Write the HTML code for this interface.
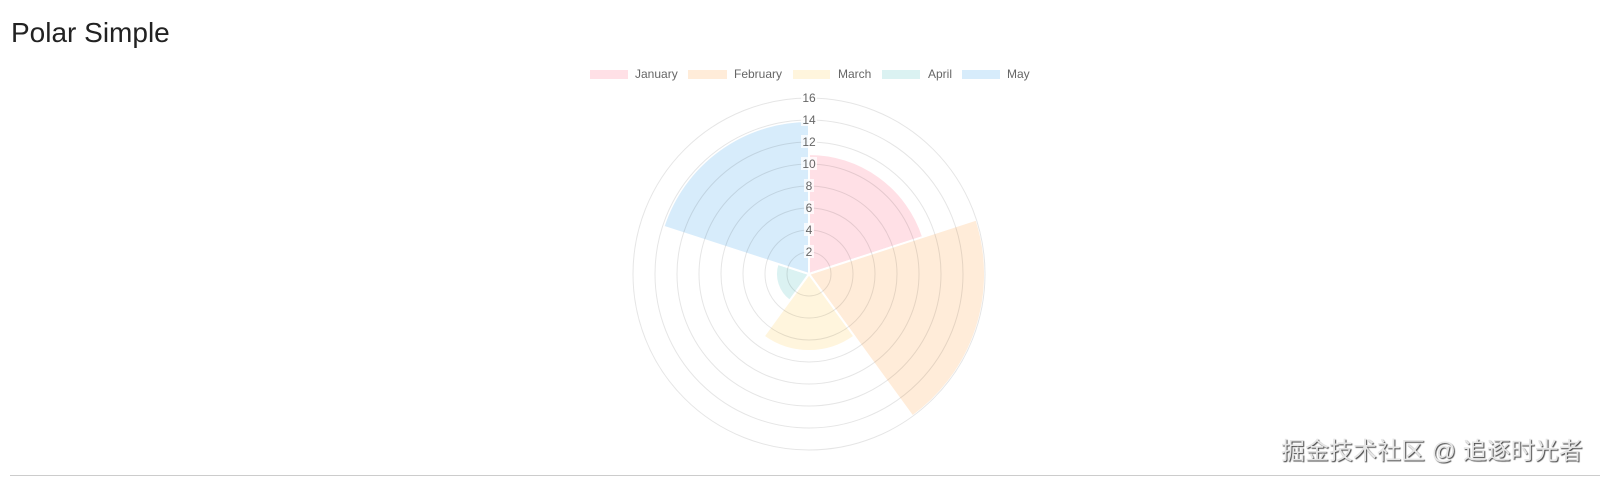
<!DOCTYPE html>
<html><head><meta charset="utf-8"><style>
body{margin:0;width:1607px;height:478px;background:#fff;overflow:hidden;font-family:"Liberation Sans",Arial,sans-serif;position:relative}
.t{position:absolute;left:11px;top:17px;font-size:28px;color:#222}
.hr{position:absolute;left:10px;top:475px;width:1590px;height:1px;background:#ccc}
.wm{position:absolute;left:1281px;top:431px;font-size:24px;color:#e6e6e6;font-family:"Liberation Sans","Noto Sans CJK SC",sans-serif;text-shadow:1px 1px 1px #444;white-space:nowrap}
</style></head><body>
<div class="t">Polar Simple</div>
<svg width="1607" height="478" style="position:absolute;left:0;top:0" font-family="Liberation Sans, Arial, sans-serif">
<g font-size="12" fill="#666">
<rect x="590" y="70" width="38" height="9" fill="#ffe0e6"/><text x="635" y="78">January</text>
<rect x="688" y="70" width="39" height="9" fill="#ffecd9"/><text x="734" y="78">February</text>
<rect x="793" y="70" width="37" height="9" fill="#fff5dd"/><text x="838" y="78">March</text>
<rect x="882" y="70" width="38" height="9" fill="#dbf2f2"/><text x="928" y="78">April</text>
<rect x="962" y="70" width="38" height="9" fill="#d7ecfb"/><text x="1007" y="78">May</text>
</g>
<g transform="translate(809,274)">
<g stroke="#fff" stroke-width="2">
<path d="M0,0 L0,-120 A120,120 0 0 1 114.1,-37.1 Z" fill="#ffe0e6"/>
<path d="M0,0 L167.4,-54.4 A176,176 0 0 1 103.5,142.4 Z" fill="#ffecd9"/>
<path d="M0,0 L45.3,62.3 A77,77 0 0 1 -45.3,62.3 Z" fill="#fff5dd"/>
<path d="M0,0 L-19.4,26.7 A33,33 0 0 1 -31.4,-10.2 Z" fill="#dbf2f2"/>
<path d="M0,0 L-145.5,-47.3 A153,153 0 0 1 0,-153 Z" fill="#d7ecfb"/>
</g>
<g fill="none" stroke="#000" stroke-opacity="0.1">
<circle r="22"/><circle r="44"/><circle r="66"/><circle r="88"/><circle r="110"/><circle r="132"/><circle r="154"/><circle r="176"/>
</g>
<g font-size="12" fill="#666" text-anchor="middle">
<g fill="#fff" fill-opacity="0.75">
<rect x="-8" y="-183" width="16" height="13"/><rect x="-8" y="-161" width="16" height="13"/><rect x="-8" y="-139" width="16" height="13"/><rect x="-8" y="-117" width="16" height="13"/>
<rect x="-5" y="-95" width="10" height="13"/><rect x="-5" y="-73" width="10" height="13"/><rect x="-5" y="-51" width="10" height="13"/><rect x="-5" y="-29" width="10" height="13"/>
</g>
<text y="-172">16</text><text y="-150">14</text><text y="-128">12</text><text y="-106">10</text><text y="-84">8</text><text y="-62">6</text><text y="-40">4</text><text y="-18">2</text>
</g>
</g>
</svg>
<div class="hr"></div>
<div class="wm">掘金技术社区 @ 追逐时光者</div>
</body></html>
